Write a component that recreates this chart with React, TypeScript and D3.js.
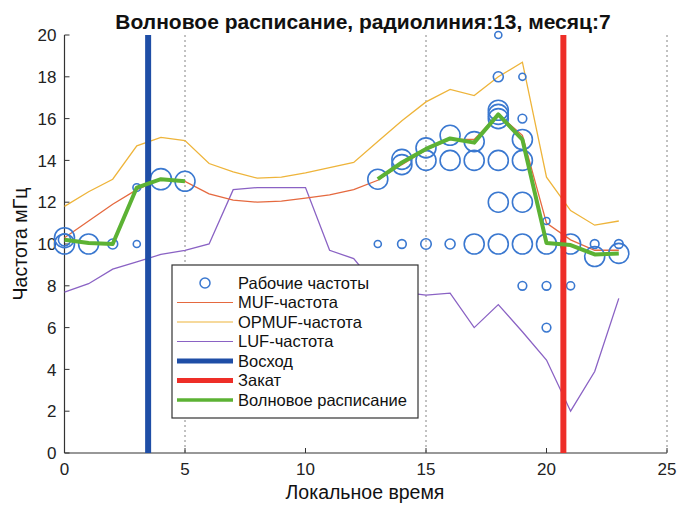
import React from "react";
import * as d3 from "d3";

// hours of the day
const hours = [0, 1, 2, 3, 4, 5, 6, 7, 8, 9, 10, 11, 12, 13, 14, 15, 16, 17, 18, 19, 20, 21, 22, 23];

const mufValues = [10.3, 11.1, 11.9, 12.6, 13.1, 13.0, 12.4, 12.1, 12.0, 12.05, 12.2, 12.35, 12.6, 13.05, 13.8, 14.5, 15.0, 15.0, 16.2, 15.2, 11.0, 10.2, 9.7, 9.7];
const opmufValues = [11.8, 12.5, 13.1, 14.7, 15.1, 14.95, 13.85, 13.45, 13.15, 13.2, 13.4, 13.65, 13.9, 14.9, 15.9, 16.8, 17.4, 17.1, 18.0, 18.7, 13.2, 11.6, 10.9, 11.1];
const lufValues = [7.7, 8.1, 8.8, 9.15, 9.5, 9.7, 10.0, 12.6, 12.7, 12.7, 12.7, 9.7, 9.3, 7.9, 7.7, 7.55, 7.65, 6.0, 7.1, 5.8, 4.45, 2.0, 3.9, 7.4];
const scheduleValues: (number | null)[] = [10.2, 10.05, 10.0, 12.7, 13.1, 13.0, null, null, null, null, null, null, null, 13.1, 13.9, 14.55, 15.05, 14.85, 16.2, 15.0, 10.05, 9.95, 9.5, 9.55];

// working frequencies: hour, frequency, weight (usage)
const workHours = [0, 0, 0, 1, 2, 3, 3, 4, 5, 13, 13, 14, 14, 14, 15, 15, 15, 16, 16, 16, 17, 17, 17, 18, 18, 18, 18, 18, 18, 18, 18, 19, 19, 19, 19, 19, 19, 19, 20, 20, 20, 20, 21, 21, 22, 22, 23, 23];
const workFreqs = [10.0, 10.3, 10.2, 10.0, 10.0, 10.0, 12.7, 13.1, 13.0, 10.0, 13.1, 10.0, 13.8, 14.05, 10.0, 14.0, 14.6, 10.0, 14.0, 15.2, 10.0, 14.0, 14.9, 10.0, 12.0, 14.0, 16.0, 16.2, 16.4, 18.0, 20.0, 8.0, 10.0, 12.0, 14.0, 15.0, 16.0, 18.0, 6.0, 8.0, 10.0, 11.1, 8.0, 10.0, 10.0, 9.4, 10.0, 9.55];
const workWeights = [8, 8, 3, 8, 2, 1, 1.2, 9, 8, 1, 8, 1.5, 8, 8, 2.2, 8, 8, 2, 8, 8, 8, 8, 8, 8, 8, 8, 8, 8, 8, 2, 1, 1.5, 8, 8, 8, 8, 1.5, 1, 1.5, 1.5, 8, 1, 1.3, 8, 1.5, 8, 1.5, 8];

const sunriseHour = 3.47;
const sunsetHour = 20.7;

const xTicks = [0, 5, 10, 15, 20, 25];
const yTicks = [0, 2, 4, 6, 8, 10, 12, 14, 16, 18, 20];
const gridHours = [5, 15, 25];

const legendLabels = ["Рабочие частоты", "MUF-частота", "OPMUF-частота", "LUF-частота", "Восход", "Закат", "Волновое расписание"];

const W = 677;
const H = 505;
const FONT = "'Liberation Sans', Arial, sans-serif";

const colors = {
  circle: "#3a78d0",
  muf: "#e5693f",
  opmuf: "#eeb43a",
  luf: "#8a62c4",
  sunrise: "#1f4ea6",
  sunset: "#ee2e28",
  schedule: "#5cb234",
};

export default function App() {
  const x = d3.scaleLinear().domain([0, 25]).range([64.5, 667]);
  const y = d3.scaleLinear().domain([0, 20]).range([453, 35]);
  const r = d3.scaleSqrt().domain([0, 8]).range([0, 10]);

  const line = d3
    .line<[number, number | null]>()
    .defined((d) => d[1] != null)
    .x((d) => x(d[0]))
    .y((d) => y(d[1] as number));

  const series = (vals: (number | null)[]) => line(hours.map((h, i) => [h, vals[i]]));

  const legendX = 177;
  const legendY = 270;
  const rowH = 19.5;
  const legendItems = [
    { kind: "circle", color: colors.circle, w: 1.5 },
    { kind: "line", color: colors.muf, w: 1.2 },
    { kind: "line", color: colors.opmuf, w: 1.2 },
    { kind: "line", color: colors.luf, w: 1.2 },
    { kind: "line", color: colors.sunrise, w: 5 },
    { kind: "line", color: colors.sunset, w: 5 },
    { kind: "line", color: colors.schedule, w: 3.5 },
  ];

  return (
    <svg width={W} height={H} style={{ position: "absolute", left: 0, top: 0, background: "#fff" }} fontFamily={FONT}>
      {/* dashed grid */}
      {gridHours.map((g) => (
        <line key={g} x1={x(g)} x2={x(g)} y1={y(20)} y2={y(0)} stroke="#666" strokeWidth={0.8} strokeDasharray="2,3" />
      ))}

      {/* axes */}
      <line x1={x(0)} x2={x(0)} y1={y(20)} y2={y(0)} stroke="#333" strokeWidth={1.2} />
      <line x1={x(0)} x2={x(25)} y1={y(0)} y2={y(0)} stroke="#333" strokeWidth={1.2} />
      {yTicks.map((t) => (
        <g key={"y" + t}>
          <line x1={x(0)} x2={x(0) + 5} y1={y(t)} y2={y(t)} stroke="#333" strokeWidth={1} />
          <text x={x(0) - 8} y={y(t)} dy="0.36em" textAnchor="end" fontSize={17} fill="#222">
            {t}
          </text>
        </g>
      ))}
      {xTicks.map((t) => (
        <g key={"x" + t}>
          <line x1={x(t)} x2={x(t)} y1={y(0)} y2={y(0) - 5} stroke="#333" strokeWidth={1} />
          <text x={x(t)} y={y(0) + 22} textAnchor="middle" fontSize={17} fill="#222">
            {t}
          </text>
        </g>
      ))}

      {/* frequency curves */}
      <path d={series(lufValues) || ""} fill="none" stroke={colors.luf} strokeWidth={1.3} />
      <path d={series(opmufValues) || ""} fill="none" stroke={colors.opmuf} strokeWidth={1.3} />
      <path d={series(mufValues) || ""} fill="none" stroke={colors.muf} strokeWidth={1.3} />

      {/* working frequencies */}
      {workHours.map((h, i) => (
        <circle key={"c" + i} cx={x(h)} cy={y(workFreqs[i])} r={r(workWeights[i])} fill="none" stroke={colors.circle} strokeWidth={1.6} />
      ))}

      {/* sunrise / sunset */}
      <line x1={x(sunriseHour)} x2={x(sunriseHour)} y1={y(20)} y2={y(0)} stroke={colors.sunrise} strokeWidth={6} />
      <line x1={x(sunsetHour)} x2={x(sunsetHour)} y1={y(20)} y2={y(0)} stroke={colors.sunset} strokeWidth={6} />

      {/* wave schedule */}
      <path d={series(scheduleValues) || ""} fill="none" stroke={colors.schedule} strokeWidth={4} strokeLinejoin="round" />

      {/* legend */}
      <rect x={legendX - 5} y={legendY - 5} width={246} height={153} fill="#fff" stroke="#333" strokeWidth={1.2} />
      {legendItems.map((it, i) => {
        const cy = legendY + 13 + i * rowH;
        return (
          <g key={"l" + i}>
            {it.kind === "circle" ? (
              <circle cx={legendX + 28} cy={cy} r={5} fill="none" stroke={it.color} strokeWidth={it.w} />
            ) : (
              <line x1={legendX} x2={legendX + 56} y1={cy} y2={cy} stroke={it.color} strokeWidth={it.w} />
            )}
            <text x={legendX + 61} y={cy} dy="0.36em" fontSize={16.5} fill="#111">
              {legendLabels[i]}
            </text>
          </g>
        );
      })}

      {/* titles */}
      <text x={363} y={29} textAnchor="middle" fontSize={21} fontWeight="bold" fill="#111">
        Волновое расписание, радиолиния:13, месяц:7
      </text>
      <text x={365} y={499} textAnchor="middle" fontSize={19.5} fill="#111">
        Локальное время
      </text>
      <text transform={`translate(27,${y(10)}) rotate(-90)`} textAnchor="middle" fontSize={19.5} fill="#111">
        Частота мГц
      </text>
    </svg>
  );
}
